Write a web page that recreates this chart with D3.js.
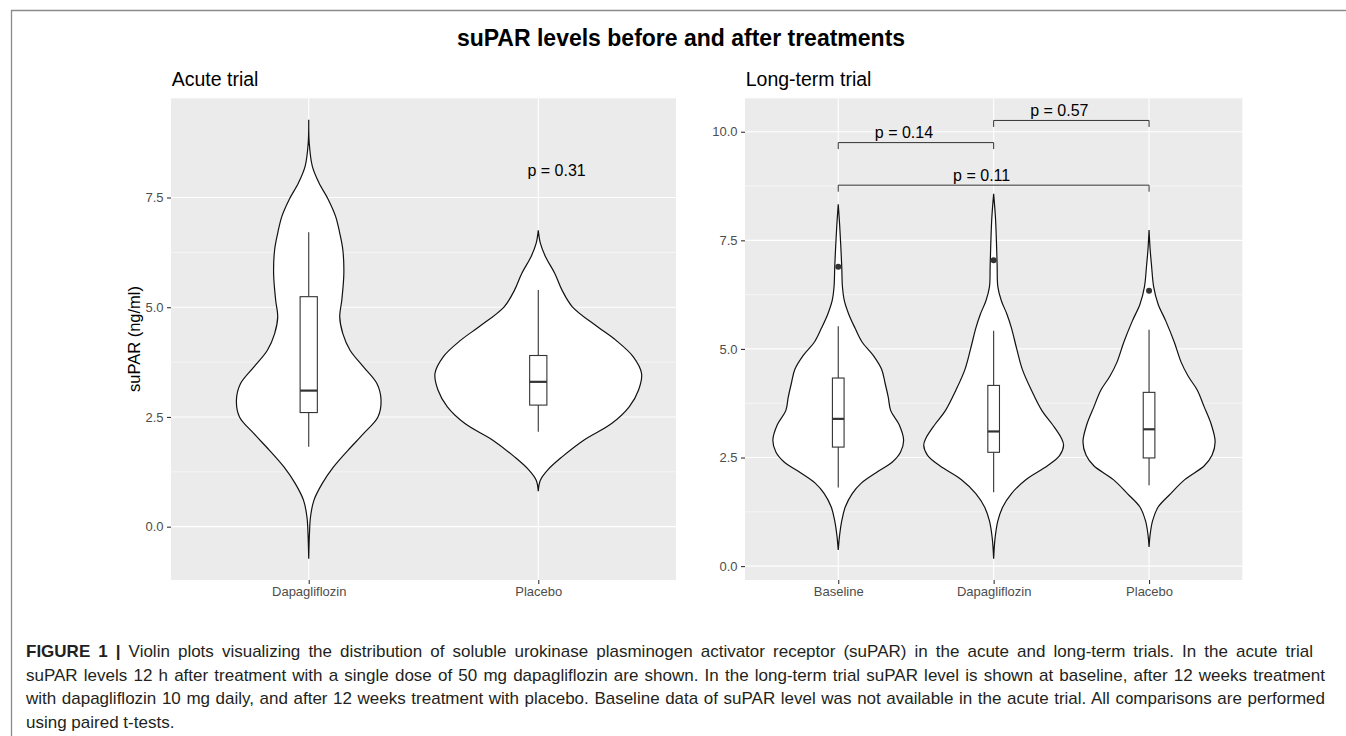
<!DOCTYPE html>
<html>
<head>
<meta charset="utf-8">
<script src="https://cdn.jsdelivr.net/npm/d3@7"></script>
<style>
  html, body { margin: 0; padding: 0; background: #fff; }
  body { width: 1346px; height: 736px; position: relative; overflow: hidden;
         font-family: "Liberation Sans", Arial, Helvetica, sans-serif; }
  #chart { position: absolute; left: 0; top: 0; }
  #caption { position: absolute; left: 26px; top: 640px; width: 1299px;
             font-size: 17px; line-height: 23.7px; color: #231f20; }
  #caption div { white-space: nowrap; text-align: justify; text-align-last: justify; }
  #caption div.first { margin-right: 12px; }
  #caption div.last { text-align-last: left; }
  #caption b { font-weight: bold; }
</style>
</head>
<body>
<svg id="chart" width="1346" height="736"></svg>
<div id="caption"></div>
<script>
// categories and ticks
const acuteGroups = ["Dapagliflozin", "Placebo"];
const longGroups = ["Baseline", "Dapagliflozin", "Placebo"];
const acuteTicks = [0, 2.5, 5, 7.5];
const longTicks = [0, 2.5, 5, 7.5, 10];

// violin outlines: [suPAR, relative density]
const acuteDapaViolin = [[-0.73, 0], [-0.16, 0.007], [0.22, 0.017], [0.60, 0.05], [0.98, 0.13],
  [1.36, 0.24], [1.74, 0.38], [2.12, 0.53], [2.50, 0.67], [2.88, 0.70], [3.26, 0.66],
  [3.64, 0.53], [4.02, 0.40], [4.40, 0.33], [4.78, 0.30], [5.16, 0.32], [5.77, 0.34],
  [6.31, 0.33], [6.69, 0.30], [7.07, 0.26], [7.45, 0.19], [7.83, 0.10], [8.21, 0.035],
  [8.74, 0.005], [9.27, 0]];
const acutePlaceboViolin = [[0.81, 0], [1.06, 0.02], [1.29, 0.09], [1.59, 0.23], [1.97, 0.44],
  [2.35, 0.71], [2.73, 0.88], [3.11, 0.97], [3.49, 1.0], [3.87, 0.92], [4.25, 0.75],
  [4.56, 0.57], [5.01, 0.33], [5.39, 0.23], [5.77, 0.16], [6.15, 0.07], [6.46, 0.02], [6.75, 0]];
const longBaselineViolin = [[0.37, 0], [0.72, 0.02], [1.04, 0.05], [1.36, 0.10], [1.67, 0.20],
  [1.91, 0.33], [2.15, 0.54], [2.39, 0.77], [2.62, 0.89], [2.90, 0.935], [3.26, 0.87],
  [3.58, 0.75], [3.89, 0.715], [4.21, 0.67], [4.53, 0.62], [4.85, 0.50], [5.16, 0.34],
  [5.48, 0.24], [5.80, 0.15], [6.11, 0.087], [6.43, 0.06], [6.89, 0.05], [7.38, 0.036],
  [7.86, 0.02], [8.33, 0]];
const longDapaViolin = [[0.17, 0], [0.64, 0.02], [1.04, 0.06], [1.36, 0.13], [1.67, 0.255],
  [1.99, 0.46], [2.31, 0.77], [2.55, 0.945], [2.78, 1.0], [2.94, 0.97], [3.26, 0.84],
  [3.58, 0.69], [4.05, 0.54], [4.53, 0.41], [5.00, 0.33], [5.48, 0.255], [5.80, 0.19],
  [6.11, 0.11], [6.43, 0.06], [6.91, 0.05], [7.46, 0.04], [8.02, 0.026], [8.57, 0]];
const longPlaceboViolin = [[0.44, 0], [0.72, 0.015], [1.04, 0.05], [1.36, 0.13], [1.67, 0.31],
  [1.99, 0.51], [2.31, 0.79], [2.55, 0.90], [2.86, 0.945], [3.26, 0.89], [3.66, 0.79],
  [4.05, 0.69], [4.37, 0.56], [4.69, 0.46], [5.16, 0.36], [5.64, 0.24], [6.03, 0.13],
  [6.43, 0.066], [6.91, 0.036], [7.30, 0.015], [7.74, 0]];

// box stats: [lower whisker, q1, median, q3, upper whisker]
const acuteBoxes = [[1.82, 2.60, 3.10, 5.24, 6.71], [2.16, 2.77, 3.30, 3.90, 5.39]];
const longBoxes = [[1.81, 2.74, 3.39, 4.33, 5.52], [1.70, 2.62, 3.10, 4.16, 5.42], [1.86, 2.49, 3.15, 4.00, 5.44]];
const longOutliers = [6.89, 7.04, 6.34];

// p values
const acutePLabel = "p = 0.31";
const acutePAt = [2.08, 7.98];
const longPairs = [["Baseline", "Dapagliflozin"], ["Dapagliflozin", "Placebo"], ["Baseline", "Placebo"]];
const longPLabels = ["p = 0.14", "p = 0.57", "p = 0.11"];
const longBracketY = [9.75, 10.26, 8.77];

const captionLines = [
  "Violin plots visualizing the distribution of soluble urokinase plasminogen activator receptor (suPAR) in the acute and long-term trials. In the acute trial",
  "suPAR levels 12 h after treatment with a single dose of 50 mg dapagliflozin are shown. In the long-term trial suPAR level is shown at baseline, after 12 weeks treatment",
  "with dapagliflozin 10 mg daily, and after 12 weeks treatment with placebo. Baseline data of suPAR level was not available in the acute trial. All comparisons are performed",
  "using paired t-tests."
];

let svg = d3.select("#chart");
svg.append("rect").attr("width", 1346).attr("height", 736).attr("fill", "#fff");

// frame lines
svg.append("path")
   .attr("d", "M11.5,736V10.5H1346")
   .attr("fill", "none")
   .attr("stroke", "#8a8a8a")
   .attr("stroke-width", 1.3);

// main title
svg.append("text")
   .attr("x", 681).attr("y", 46)
   .attr("text-anchor", "middle")
   .attr("font-size", 23).attr("font-weight", "bold")
   .text("suPAR levels before and after treatments");

function drawPanel(o) {
  let g = svg.append("g");
  let x = d3.scalePoint().domain(o.groups).range([o.left, o.right]).padding(0.6);
  let y = d3.scaleLinear().domain(o.yDomain).range([o.bottom, o.top]);
  let step = x.step();

  g.append("rect")
   .attr("x", o.left).attr("y", o.top)
   .attr("width", o.right - o.left).attr("height", o.bottom - o.top)
   .attr("fill", "#ebebeb");

  // minor + major grid
  let minor = o.ticks.slice(0, -1).map(t => t + 1.25).filter(t => t < o.yDomain[1]);
  g.selectAll(".minor").data(minor).join("line")
   .attr("x1", o.left).attr("x2", o.right)
   .attr("y1", d => y(d)).attr("y2", d => y(d))
   .attr("stroke", "#fff").attr("stroke-width", 0.55);
  g.selectAll(".major").data(o.ticks).join("line")
   .attr("x1", o.left).attr("x2", o.right)
   .attr("y1", d => y(d)).attr("y2", d => y(d))
   .attr("stroke", "#fff").attr("stroke-width", 1.1);
  g.selectAll(".vgrid").data(o.groups).join("line")
   .attr("x1", d => x(d)).attr("x2", d => x(d))
   .attr("y1", o.top).attr("y2", o.bottom)
   .attr("stroke", "#fff").attr("stroke-width", 1.1);

  // violins
  o.violins.forEach((v, i) => {
    let cx = x(o.groups[i]);
    let half = 0.45 * step;
    let area = d3.area()
      .curve(d3.curveCatmullRom)
      .y(d => y(d[0]))
      .x0(d => cx - d[1] * half)
      .x1(d => cx + d[1] * half);
    g.append("path")
     .attr("d", area(v))
     .attr("fill", "#fff")
     .attr("stroke", "#111")
     .attr("stroke-width", 1.2);
  });

  // box plots
  o.boxes.forEach((b, i) => {
    let cx = x(o.groups[i]);
    let bw = 0.0375 * step;
    g.append("line").attr("x1", cx).attr("x2", cx)
     .attr("y1", y(b[0])).attr("y2", y(b[1]))
     .attr("stroke", "#333").attr("stroke-width", 1.1);
    g.append("line").attr("x1", cx).attr("x2", cx)
     .attr("y1", y(b[3])).attr("y2", y(b[4]))
     .attr("stroke", "#333").attr("stroke-width", 1.1);
    g.append("rect")
     .attr("x", cx - bw).attr("width", bw * 2)
     .attr("y", y(b[3])).attr("height", y(b[1]) - y(b[3]))
     .attr("fill", "#fff").attr("stroke", "#333").attr("stroke-width", 1.1);
    g.append("line").attr("x1", cx - bw).attr("x2", cx + bw)
     .attr("y1", y(b[2])).attr("y2", y(b[2]))
     .attr("stroke", "#333").attr("stroke-width", 2.2);
  });

  if (o.outliers) {
    g.selectAll(".out").data(o.outliers).join("circle")
     .attr("cx", (d, i) => x(o.groups[i]))
     .attr("cy", d => y(d))
     .attr("r", 3)
     .attr("fill", "#333");
  }

  // axes
  let ya = g.append("g")
    .attr("transform", `translate(${o.left},0)`)
    .call(d3.axisLeft(y).tickValues(o.ticks).tickFormat(d3.format(".1f")).tickSize(4).tickPadding(3.5));
  let xa = g.append("g")
    .attr("transform", `translate(0,${o.bottom})`)
    .call(d3.axisBottom(x).tickSize(4).tickPadding(3));
  [ya, xa].forEach(a => {
    a.select(".domain").remove();
    a.attr("font-family", null).attr("font-size", null);
    a.selectAll(".tick line").attr("stroke", "#333").attr("stroke-width", 1.1);
    a.selectAll(".tick text").attr("fill", "#4d4d4d").attr("font-size", 13);
  });

  // panel title
  svg.append("text")
     .attr("x", o.left + 0.7).attr("y", 86)
     .attr("font-size", 19.5)
     .text(o.title);

  return { x: x, y: y, g: g };
}

let acute = drawPanel({
  title: "Acute trial", groups: acuteGroups, ticks: acuteTicks,
  left: 171, right: 676, top: 98.3, bottom: 580, yDomain: [-1.215, 9.76],
  violins: [acuteDapaViolin, acutePlaceboViolin], boxes: acuteBoxes
});

let longTerm = drawPanel({
  title: "Long-term trial", groups: longGroups, ticks: longTicks,
  left: 745, right: 1242.3, top: 98.3, bottom: 580, yDomain: [-0.32, 10.77],
  violins: [longBaselineViolin, longDapaViolin, longPlaceboViolin], boxes: longBoxes,
  outliers: longOutliers
});

// y axis title
svg.append("text")
   .attr("transform", "translate(140,339) rotate(-90)")
   .attr("text-anchor", "middle")
   .attr("font-size", 16.5)
   .text("suPAR (ng/ml)");

// acute p value
let acuteStep = acute.x.step();
acute.g.append("text")
   .attr("x", acute.x(acuteGroups[0]) + (acutePAt[0] - 1) * acuteStep)
   .attr("y", acute.y(acutePAt[1]))
   .attr("text-anchor", "middle")
   .attr("font-size", 16)
   .text(acutePLabel);

// long-term brackets
longPairs.forEach((p, i) => {
  let x1 = longTerm.x(p[0]), x2 = longTerm.x(p[1]);
  let yb = longTerm.y(longBracketY[i]);
  let yt = longTerm.y(longBracketY[i] - 0.15);
  longTerm.g.append("path")
     .attr("d", `M${x1},${yt}V${yb}H${x2}V${yt}`)
     .attr("fill", "none")
     .attr("stroke", "#333")
     .attr("stroke-width", 1);
  longTerm.g.append("text")
     .attr("x", (x1 + x2) / 2 - 12)
     .attr("y", yb - 4.5)
     .attr("text-anchor", "middle")
     .attr("font-size", 16)
     .text(longPLabels[i]);
});

// caption
let cap = d3.select("#caption");
captionLines.forEach((t, i) => {
  let d = cap.append("div")
    .classed("first", i === 0)
    .classed("last", i === captionLines.length - 1);
  if (i === 0) {
    d.append("b").text("FIGURE 1 |");
    d.append("span").text(" " + t);
  } else {
    d.text(t);
  }
});
</script>
</body>
</html>
